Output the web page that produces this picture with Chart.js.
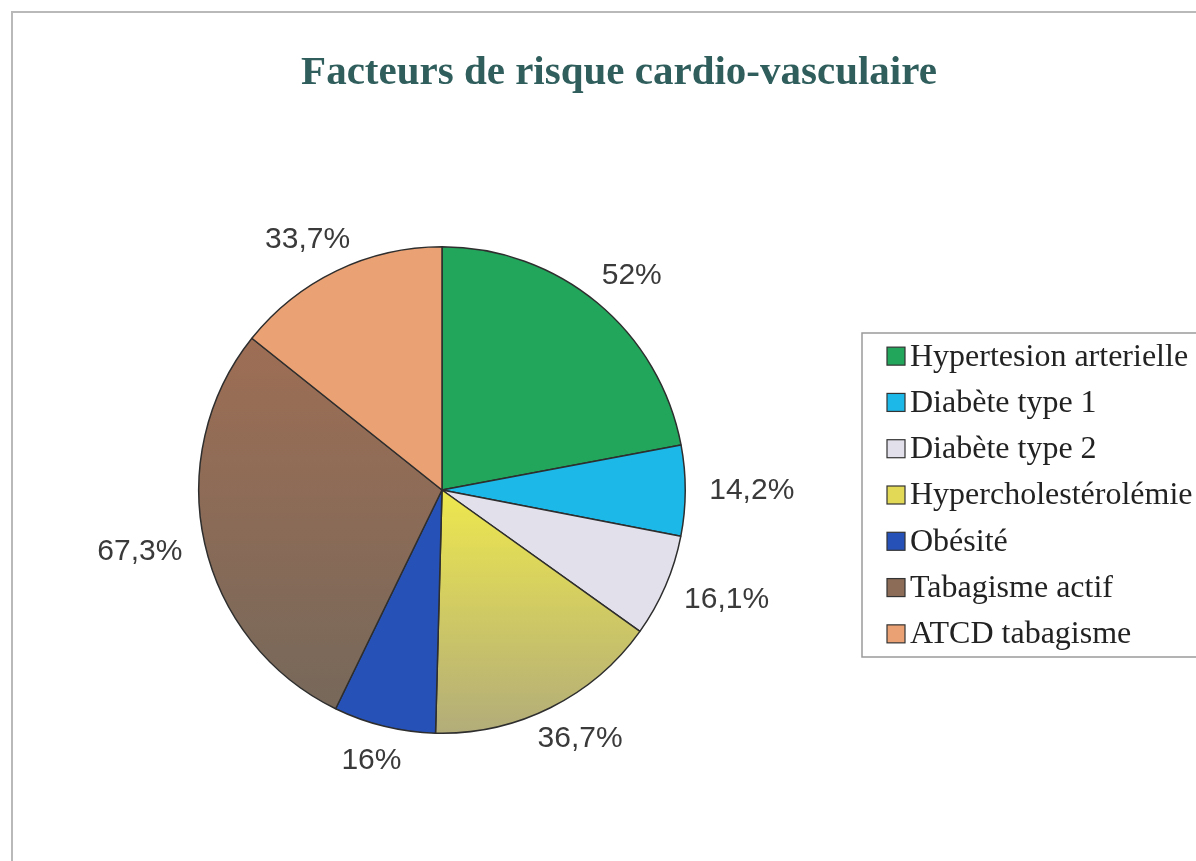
<!DOCTYPE html>
<html>
<head>
<meta charset="utf-8">
<script src="https://cdn.jsdelivr.net/npm/chart.js@4/dist/chart.umd.min.js"></script>
<style>
  html, body { margin: 0; padding: 0; background: #fff; }
  #wrap { width: 1196px; height: 861px; position: relative; }
</style>
</head>
<body>
<div id="wrap"><canvas id="pieChart"></canvas></div>
<script>
// Data
const chartTitle = 'Facteurs de risque cardio-vasculaire';
const categories = ['Hypertesion arterielle', 'Diabète type 1', 'Diabète type 2',
    'Hypercholestérolémie', 'Obésité', 'Tabagisme actif', 'ATCD tabagisme'];
const values = [52, 14.2, 16.1, 36.7, 16, 67.3, 33.7];
const sliceColors = ['#22a65c', '#1cb8e8', '#e2e0ea', '#e2da56', '#2652b8', '#8c6c56', '#eaa274'];

function fmtPct(v) {
    return String(v).replace('.', ',') + '%';
}

// Gradient for the yellow and brown slices, like the original
function sliceFill(ctx) {
    const i = ctx.dataIndex;
    const area = ctx.chart.chartArea;
    if (!area) return sliceColors[i];
    const c = ctx.chart.ctx;
    if (i === 3) {
        const g = c.createLinearGradient(0, (area.top + area.bottom) / 2, 0, area.bottom);
        g.addColorStop(0, '#eee84e');
        g.addColorStop(1, '#b2ac7a');
        return g;
    }
    if (i === 5) {
        const g = c.createLinearGradient(0, area.top + 90, 0, area.bottom - 20);
        g.addColorStop(0, '#9e6e54');
        g.addColorStop(1, '#76685a');
        return g;
    }
    return sliceColors[i];
}

// Outer frame and title (centred on the whole frame, not the pie)
const framePlugin = {
    id: 'frame',
    beforeDraw(chart) {
        const c = chart.ctx;
        c.save();
        c.fillStyle = '#fff';
        c.fillRect(0, 0, chart.width, chart.height);
        c.strokeStyle = '#b9b9b9';
        c.lineWidth = 2;
        c.strokeRect(12, 12, chart.width + 10, chart.height + 10);
        c.font = 'bold 41px "Liberation Serif", "Times New Roman", serif';
        c.fillStyle = '#2f5e5c';
        c.textAlign = 'center';
        c.textBaseline = 'alphabetic';
        c.fillText(chartTitle, 619, 84);
        c.restore();
    }
};

// Percent labels outside each slice
const pctLabels = {
    id: 'pctLabels',
    afterDatasetsDraw(chart) {
        const c = chart.ctx;
        const meta = chart.getDatasetMeta(0);
        c.save();
        c.font = '30px "Liberation Sans", Arial, sans-serif';
        c.fillStyle = '#3a3a3a';
        c.textAlign = 'center';
        c.textBaseline = 'middle';
        meta.data.forEach((arc, i) => {
            const p = arc.getProps(['x', 'y', 'startAngle', 'endAngle', 'outerRadius'], true);
            const a = (p.startAngle + p.endAngle) / 2;
            const txt = fmtPct(values[i]);
            const w = c.measureText(txt).width;
            const h = 22;
            const d = p.outerRadius + 24;
            const x = p.x + Math.cos(a) * d + Math.cos(a) * w / 2;
            const y = p.y + Math.sin(a) * d + Math.sin(a) * h / 2;
            c.fillText(txt, x, y);
        });
        c.restore();
    }
};

// Boxed legend on the right
const boxLegend = {
    id: 'boxLegend',
    afterDraw(chart) {
        const c = chart.ctx;
        const left = 862, top = 333, bottom = 657;
        const step = (bottom - top) / categories.length;
        c.save();
        c.strokeStyle = '#9a9a9a';
        c.lineWidth = 1.5;
        c.strokeRect(left, top, chart.width - left + 10, bottom - top);
        c.font = '32px "Liberation Serif", "Times New Roman", serif';
        c.textBaseline = 'middle';
        c.textAlign = 'left';
        categories.forEach((label, i) => {
            const cy = top + step * (i + 0.5);
            c.fillStyle = sliceColors[i];
            c.fillRect(887, cy - 9, 18, 18);
            c.strokeStyle = '#333';
            c.lineWidth = 1.2;
            c.strokeRect(887, cy - 9, 18, 18);
            c.fillStyle = '#222';
            c.fillText(label, 910, cy + 1);
        });
        c.restore();
    }
};

const ctx = document.getElementById('pieChart').getContext('2d');
new Chart(ctx, {
    type: 'pie',
    data: {
        labels: categories,
        datasets: [{
            data: values,
            backgroundColor: sliceFill,
            borderColor: '#2e2e2e',
            borderWidth: 1.5
        }]
    },
    options: {
        responsive: true,
        maintainAspectRatio: false,
        animation: false,
        layout: { padding: { left: 198, right: 510, top: 246, bottom: 127 } },
        plugins: {
            legend: { display: false },
            tooltip: { enabled: false },
            title: { display: false }
        }
    },
    plugins: [framePlugin, pctLabels, boxLegend]
});
</script>
</body>
</html>
